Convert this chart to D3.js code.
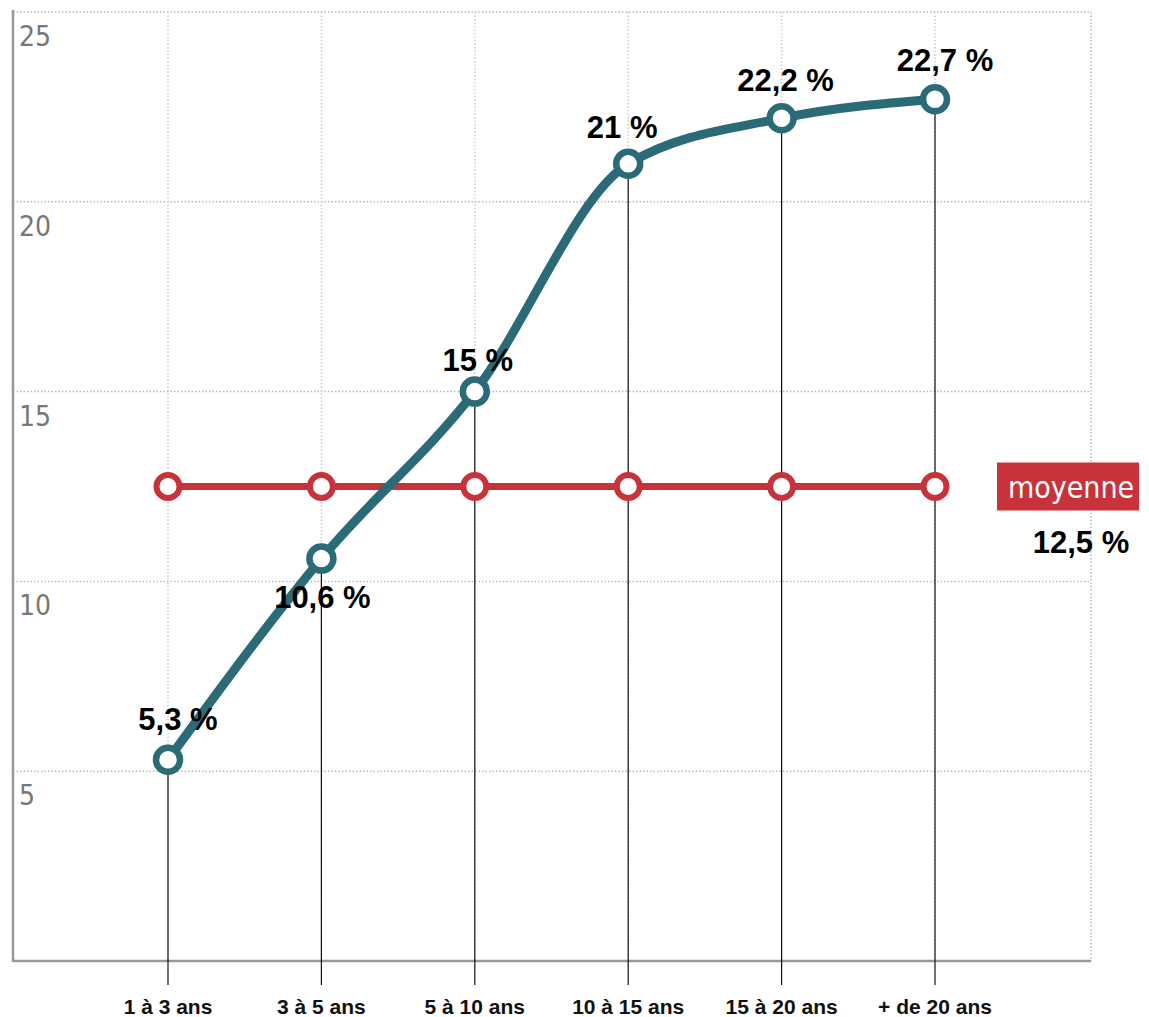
<!DOCTYPE html>
<html><head><meta charset="utf-8">
<script src="https://cdn.jsdelivr.net/npm/d3@7"></script>
<style>body{margin:0;background:#fff}svg{display:block}</style>
</head><body>
<svg id="c" width="1149" height="1017"></svg>
<script>
const categories = ["1 à 3 ans","3 à 5 ans","5 à 10 ans","10 à 15 ans","15 à 20 ans","+ de 20 ans"];
const values = [5.3, 10.6, 15, 21, 22.2, 22.7];
const valueLabels = ["5,3 %","10,6 %","15 %","21 %","22,2 %","22,7 %"];
const average = 12.5;
const averageLabel = "12,5 %";
const yTicks = [5,10,15,20,25];

const svg = d3.select("#c");
const x = d3.scalePoint().domain(categories).range([168, 935]);
const y = d3.scaleLinear().domain([0,25]).range([961, 12]);
const left = 13, right = 1091;

// grid
const g = svg.append("g");
g.selectAll("line.h").data(yTicks).join("line")
  .attr("x1", left).attr("x2", right).attr("y1", d=>y(d)).attr("y2", d=>y(d))
  .attr("stroke","#bbb").attr("stroke-width",1.5).attr("stroke-dasharray","1.5,2");
g.selectAll("line.v").data(categories).join("line")
  .attr("x1", d=>x(d)).attr("x2", d=>x(d)).attr("y1", y(25)).attr("y2", y(0))
  .attr("stroke","#ccc").attr("stroke-width",1.5).attr("stroke-dasharray","1.5,2");
g.append("line").attr("x1",right).attr("x2",right).attr("y1",y(25)).attr("y2",y(0))
  .attr("stroke","#bbb").attr("stroke-width",1.5).attr("stroke-dasharray","1.5,2");

// axes
g.append("line").attr("x1",left).attr("x2",left).attr("y1",y(25)-2).attr("y2",y(0)+1)
  .attr("stroke","#999").attr("stroke-width",2.5);
g.append("line").attr("x1",left).attr("x2",right).attr("y1",y(0)).attr("y2",y(0))
  .attr("stroke","#999").attr("stroke-width",2.5);

g.selectAll("text.yt").data(yTicks).join("text")
  .attr("x", 19).attr("y", d=>y(d)+34)
  .attr("font-family","'DejaVu Sans Condensed','Liberation Sans Narrow',sans-serif")
  .attr("font-size",28).attr("fill","#777").text(d=>d);

// drop lines
g.selectAll("line.drop").data(values).join("line")
  .attr("x1",(d,i)=>x(categories[i])).attr("x2",(d,i)=>x(categories[i]))
  .attr("y1",d=>y(d)).attr("y2",985).attr("stroke","#111").attr("stroke-width",1.2);

// category labels
g.selectAll("text.cat").data(categories).join("text")
  .attr("x", d=>x(d)).attr("y", 1014).attr("text-anchor","middle")
  .attr("font-family","'Liberation Sans',Arial,sans-serif").attr("font-weight","bold")
  .attr("font-size",21).attr("fill","#111").text(d=>d);

// average line
const red = "#c8323a";
g.append("path").datum(categories)
  .attr("d", d3.line().x(d=>x(d)).y(()=>y(average)))
  .attr("fill","none").attr("stroke",red).attr("stroke-width",7);
g.selectAll("circle.avg").data(categories).join("circle")
  .attr("cx",d=>x(d)).attr("cy",y(average)).attr("r",11.5)
  .attr("fill","#fff").attr("stroke",red).attr("stroke-width",6);

// main line
const teal = "#2b6b78";
const pts = values.map((v,i)=>[x(categories[i]), y(v)]);
g.append("path").datum(pts)
  .attr("d", d3.line().curve(d3.curveMonotoneX))
  .attr("fill","none").attr("stroke",teal).attr("stroke-width",9);
g.selectAll("circle.pt").data(pts).join("circle")
  .attr("cx",d=>d[0]).attr("cy",d=>d[1]).attr("r",12)
  .attr("fill","#fff").attr("stroke",teal).attr("stroke-width",6.5);

// value labels
const lblOff = [[10,-30],[1,49],[3,-21],[-6,-26],[4,-27],[10,-28]];
g.selectAll("text.val").data(values).join("text")
  .attr("x",(d,i)=>x(categories[i])+lblOff[i][0]).attr("y",(d,i)=>y(d)+lblOff[i][1])
  .attr("text-anchor","middle")
  .attr("font-family","'Liberation Sans',Arial,sans-serif").attr("font-weight","bold")
  .attr("font-size",31).attr("fill","#000").text((d,i)=>valueLabels[i]);

// moyenne box
g.append("rect").attr("x",997).attr("y",y(average)-24).attr("width",142).attr("height",48).attr("fill",red);
g.append("text").attr("x",1071).attr("y",y(average)+11).attr("text-anchor","middle")
  .attr("font-family","'DejaVu Sans Condensed','Liberation Sans Narrow',sans-serif")
  .attr("font-size",30).attr("fill","#fff").text("moyenne");
g.append("text").attr("x",1081).attr("y",y(average)+66).attr("text-anchor","middle")
  .attr("font-family","'Liberation Sans',Arial,sans-serif").attr("font-weight","bold")
  .attr("font-size",31).attr("fill","#000").text(averageLabel);
</script>
</body></html>
